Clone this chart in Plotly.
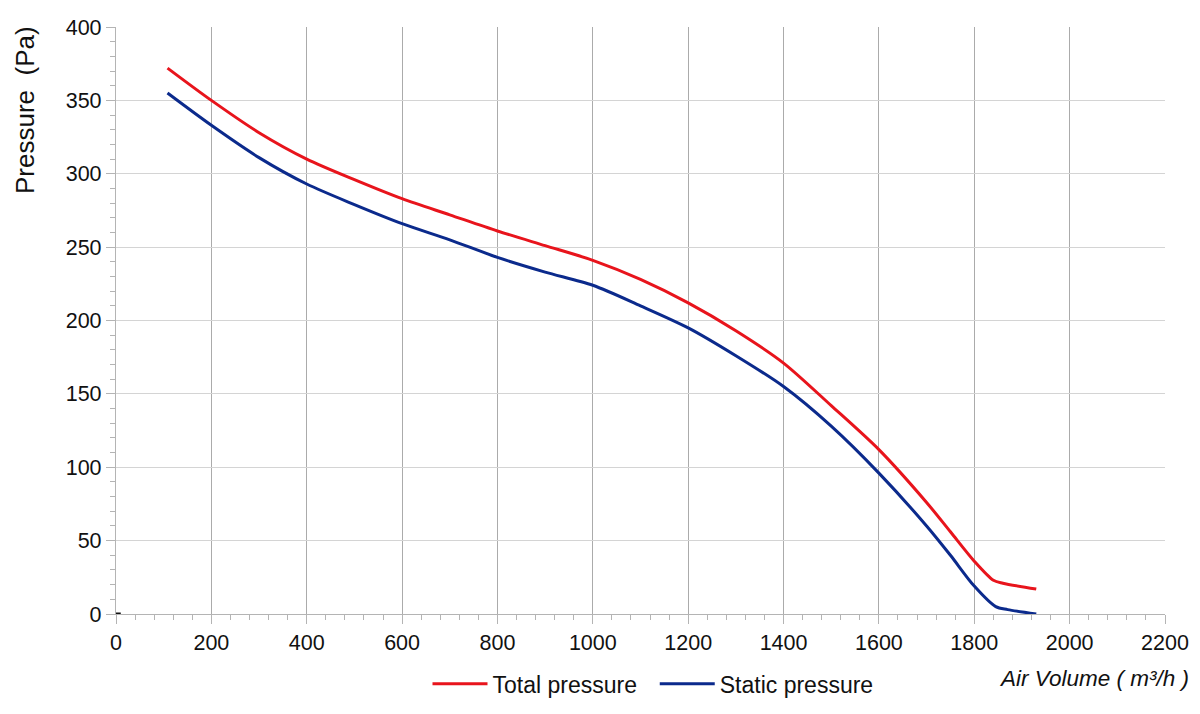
import plotly.graph_objects as go

# Data
air_volume_total = [108, 200, 300, 400, 500, 600, 700, 800, 900, 1000, 1100, 1200,
                    1300, 1400, 1500, 1600, 1700, 1750, 1800, 1840, 1860, 1930]
total_pressure = [372, 350, 328, 310, 296, 283, 272, 261, 251, 241, 228, 212,
                  193, 171, 142, 112, 76, 56, 36, 23, 21, 17]

air_volume_static = [108, 200, 300, 400, 500, 600, 700, 800, 900, 1000, 1100, 1200,
                     1300, 1400, 1500, 1600, 1700, 1750, 1800, 1845, 1870, 1930]
static_pressure = [355, 333, 311, 293, 279, 266, 255, 243, 233, 224, 210, 195,
                   176, 155, 128, 96, 60, 40, 19, 5, 3, 0]

origin_x = [0, 10]
origin_y = [0, 0]

x_ticks = list(range(0, 2201, 200))
y_ticks = list(range(0, 401, 50))

FONT = "Liberation Sans, Arial, sans-serif"

fig = go.Figure()
fig.add_trace(go.Scatter(x=air_volume_total, y=total_pressure, mode="lines",
                         name="Total pressure\u00a0\u00a0", line=dict(color="#e8141c", width=3, shape="spline", smoothing=0.8)))
fig.add_trace(go.Scatter(x=air_volume_static, y=static_pressure, mode="lines",
                         name="Static pressure", line=dict(color="#0b2a8c", width=3, shape="spline", smoothing=0.8)))
fig.add_trace(go.Scatter(x=origin_x, y=origin_y, mode="lines", showlegend=False,
                         line=dict(color="#111111", width=3), hoverinfo="skip"))

fig.update_layout(
    width=1200, height=714,
    margin=dict(l=116, r=35, t=27, b=100, autoexpand=False),
    paper_bgcolor="white", plot_bgcolor="white",
    font=dict(family=FONT, size=21, color="#111111"),
    showlegend=True,
    legend=dict(orientation="h", x=(653 - 116) / 1049, xanchor="center", y=-0.119, yanchor="middle",
                font=dict(size=23), itemwidth=55, tracegroupgap=0),
    xaxis=dict(range=[0, 2200], tickvals=x_ticks, showgrid=True, gridcolor="#ababab", gridwidth=1.3,
               showline=True, linecolor="#b4b4b4", linewidth=1.3, zeroline=False,
               ticks="outside", ticklen=9, tickcolor="#b4b4b4", tickwidth=1.3,
               tickfont=dict(size=21.5),
               minor=dict(dtick=40, ticks="outside", ticklen=5, tickcolor="#b4b4b4", showgrid=False),
               mirror=False),
    yaxis=dict(range=[0, 400], tickvals=y_ticks, showgrid=True, gridcolor="#d4d4d4", gridwidth=1.3,
               showline=True, linecolor="#b4b4b4", linewidth=1.3, zeroline=False,
               ticks="outside", ticklen=9, tickcolor="#b4b4b4", tickwidth=1.3,
               tickfont=dict(size=21.5),
               minor=dict(dtick=10, ticks="outside", ticklen=5, tickcolor="#b4b4b4", showgrid=False)),
)

fig.add_annotation(text="Pressure\u00a0 (Pa)", xref="paper", yref="paper",
                   x=(25 - 116) / 1049, y=(614 - 110) / 587, xanchor="center", yanchor="middle",
                   textangle=-90, showarrow=False, font=dict(size=26, family=FONT))

fig.add_annotation(text="<i>Air Volume ( m\u00b3/h )</i>", xref="paper", yref="paper",
                   x=(1191 - 116) / 1049, y=(614 - 678) / 587, xanchor="right", yanchor="middle", showarrow=False,
                   font=dict(size=22.5, family=FONT))

fig.write_html("out.html")
